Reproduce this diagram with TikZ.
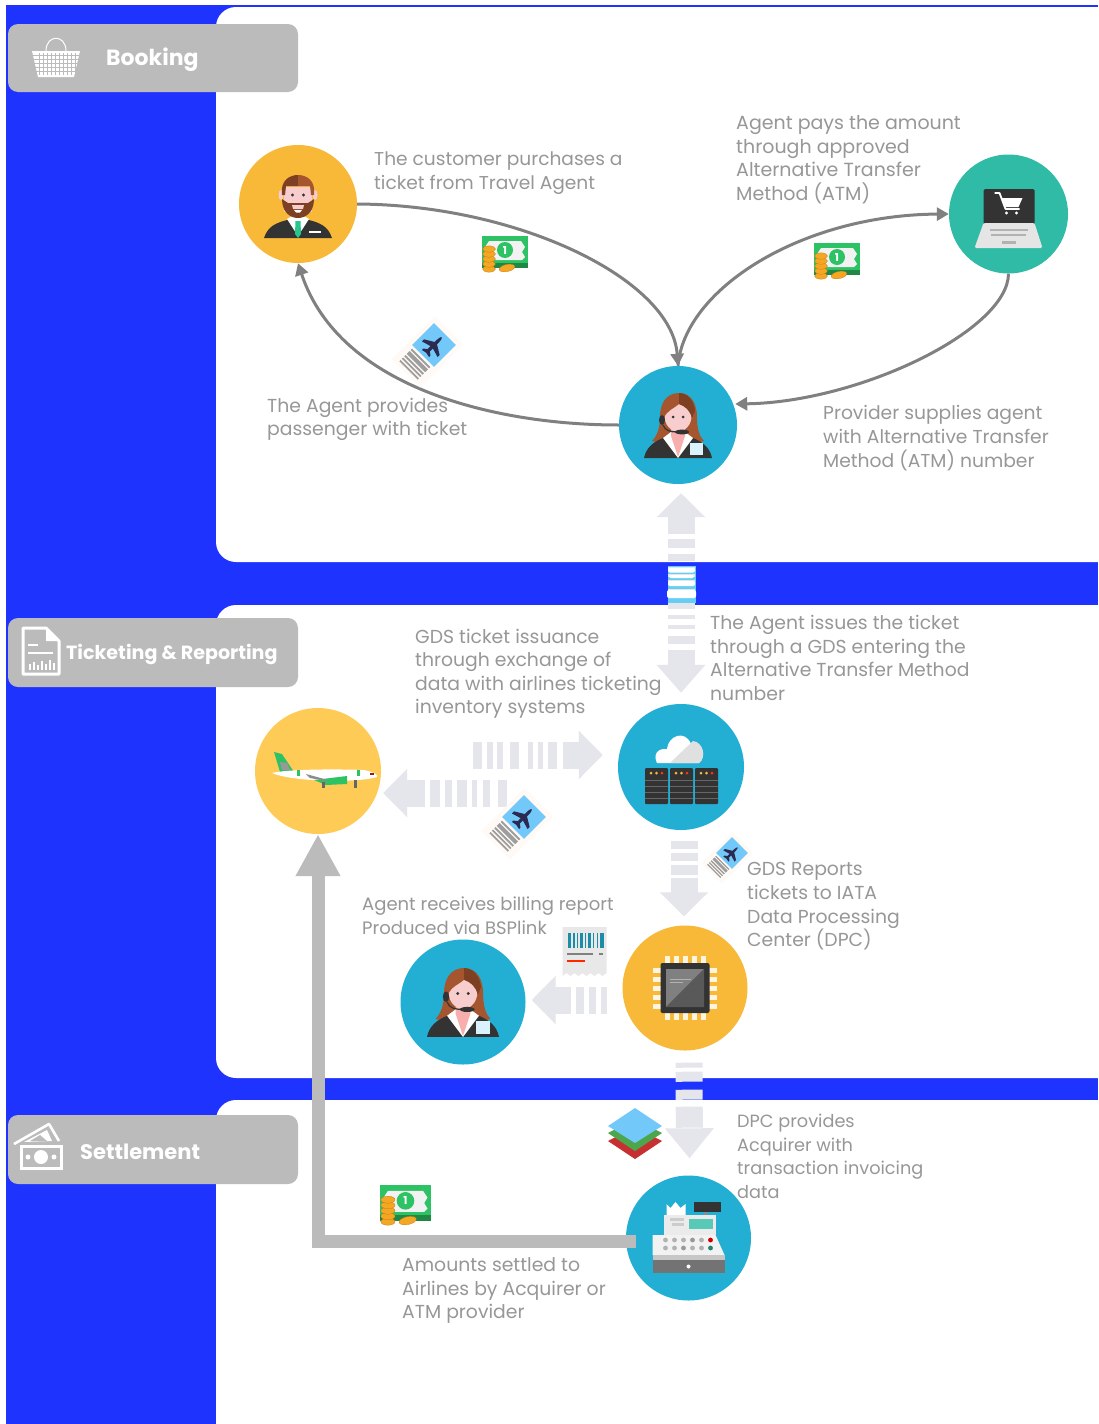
\documentclass[tikz,border=0pt]{standalone}
\usepackage{fontspec}
\setmainfont{Poppins}
\usetikzlibrary{arrows.meta,calc}
\definecolor{bandblue}{HTML}{1F33FF}
\definecolor{tagbox}{HTML}{BBBBBB}
\definecolor{labeltxt}{HTML}{979797}
\definecolor{curvegray}{HTML}{808080}
\definecolor{blockgray}{HTML}{E5E6EC}
\definecolor{amber}{HTML}{F9B938}
\definecolor{paleamber}{HTML}{FFCB57}
\definecolor{teal}{HTML}{2FBBA5}
\definecolor{cyanc}{HTML}{23AFD3}
\definecolor{hairbr}{HTML}{A5562F}
\definecolor{hairdk}{HTML}{7E4023}
\definecolor{skin}{HTML}{F8CDCD}
\definecolor{dark}{HTML}{333333}
\definecolor{moneyg}{HTML}{2DC263}
\definecolor{coin}{HTML}{F5A623}
\definecolor{tickblue}{HTML}{73C8FA}
\tikzset{
  x=1pt,y=-1pt,
  disc/.style={circle,draw=none,fill=#1,inner sep=0},
  textlabel/.style={anchor=north west,align=left,inner sep=0,text=labeltxt,font=\fontsize{#1}{23.6}\selectfont},
  textlabel/.default=18.8,
  tagtext/.style={anchor=west,inner sep=0,text=white,font=\fontsize{#1}{24}\selectfont\bfseries},
  panel/.style={fill=white,rounded corners=20pt},
  flow/.style={draw=curvegray,line width=3pt,-{Triangle[width=13pt,length=12pt]}},
  block/.style={draw=blockgray,line width=27pt,-{Triangle[width=47pt,length=24pt,fill=blockgray]}},
  bigarrow/.style={draw=tagbox,line width=13pt,-{Triangle[width=42pt,length=42pt,fill=tagbox]}},
}
% ---------- icons ----------
\newcommand\moneyicon[3]{\begin{scope}[shift={(#1,#2)},scale=#3]
  \fill[moneyg] (-23,-16) rectangle (23,16);
  \fill[black!5] (-16,-11) -- (16,-11) -- (20,-5) -- (17,0) -- (20,5) -- (17,8) -- (-20,8) -- (-20,-5) -- cycle;
  \fill[moneyg] (0,-2) circle (8);
  \node[name=money-#1-#2,inner sep=0,text=white,font=\fontsize{11}{11}\selectfont\bfseries] at (0,-2) {1};
  \fill[moneyg!70!black] (-23,11) rectangle (23,16);
  \foreach \k in {0,...,4}{\fill[coin,draw=coin!70!black,line width=.2pt] (-16,17-5*\k) ellipse (6.5 and 3.2);}
  \fill[coin,draw=coin!70!black,line width=.2pt,rotate around={12:(2,16)}] (2,16) ellipse (8 and 3.6);
\end{scope}}
\newcommand\ticketicon[3]{\begin{scope}[shift={(#1,#2)},rotate=45,scale=#3]
  \fill[orange!4] (-40,-20) rectangle (21,20);
  \fill[tickblue] (-15.5,-15.5) rectangle (15.5,15.5);
  \foreach \p/\w in {-36/1.8,-32.5/1.8,-29/1.8,-25.5/4,-20/1.8}{\fill[black!38] (\p,-13) rectangle (\p+\w,13);}
  \fill[dark!85!blue] (-10,-1.6) -- (6,-1.6) .. controls (10,-1.6) and (11,0) .. (11,0) .. controls (11,0) and (10,1.6) .. (6,1.6) -- (-10,1.6) -- cycle;
  \fill[dark!85!blue] (3,-1) -- (-3,-11) -- (-6,-11) -- (-3,-1) -- (-3,1) -- (-6,11) -- (-3,11) -- (3,1) -- cycle;
  \fill[dark!85!blue] (-7,-1) -- (-10,-5) -- (-12,-5) -- (-11,0) -- (-12,5) -- (-10,5) -- (-7,1) -- cycle;
\end{scope}}
\newcommand\womanicon[3]{\begin{scope}[shift={(#1,#2)},scale=#3]
  \fill[hairbr] (1,-32) .. controls (-13,-32) and (-18,-20) .. (-18,-8) .. controls (-18,3) and (-21,11) .. (-26,16) -- (-8,20) -- (8,20) -- (26,16) .. controls (21,11) and (19,3) .. (19,-8) .. controls (19,-20) and (14,-32) .. (1,-32) -- cycle;
  \fill[dark] (-34,33) .. controls (-32,23) and (-25,17) .. (-15,13) -- (15,13) .. controls (25,17) and (32,23) .. (34,33) -- cycle;
  \fill[white] (-15,13) -- (-7,7) -- (7,7) -- (15,13) -- (0,33) -- cycle;
  \fill[skin!85!red] (-7,4) -- (7,4) -- (7,11) -- (0,32) -- (-7,11) -- cycle;
  \fill[skin] (0,-9) ellipse (13.5 and 15.5);
  \fill[hairbr] (-14,-7) .. controls (-15,-22) and (-6,-27) .. (1,-27) .. controls (9,-27) and (15,-20) .. (14,-7) .. controls (12,-15) and (7,-19) .. (1,-21) .. controls (-3,-17) and (-11,-15) .. (-14,-7) -- cycle;
  \fill[hairdk] (1,-32) .. controls (10,-32) and (16,-24) .. (17,-14) -- (14,-7) .. controls (12,-15) and (7,-19) .. (1,-21) -- cycle;
  \fill[dark] (-5,-8) circle (1.5); \fill[dark] (5,-8) circle (1.5);
  \fill[dark] (-16,-5) ellipse (3 and 5);
  \draw[dark,line width=1.2pt] (-15,0) .. controls (-13,6) and (-7,7) .. (0,7);
  \fill[dark] (4,7) ellipse (7 and 2.4);
  \fill[black!6!cyan!15] (12,18) rectangle (25,30);
\end{scope}}
\newcommand\manicon[3]{\begin{scope}[shift={(#1,#2)},scale=#3]
  \fill[dark] (-34,34) .. controls (-30,22) and (-22,19) .. (-11,16) -- (11,16) .. controls (22,19) and (30,22) .. (34,34) -- cycle;
  \fill[white] (-11,15) -- (-6,12) -- (6,12) -- (11,15) -- (0,32) -- cycle;
  \fill[teal!85!green] (-2.5,17) -- (2.5,17) -- (3,30) -- (0,34) -- (-3,30) -- cycle;
  \fill[white] (11,27) rectangle (23,29);
  \fill[skin] (-14,-17) rectangle (14,8);
  \fill[skin] (-17,-9) ellipse (2.5 and 5); \fill[skin] (17,-9) ellipse (2.5 and 5);
  \fill[hairdk] (-16,-5) -- (-14.5,-4) -- (-10,-1) -- (10,-1) -- (14.5,-4) -- (16,-5) .. controls (16,8) and (8,14) .. (0,14) .. controls (-8,14) and (-16,8) .. (-16,-5) -- cycle;
  \fill[skin] (-6,1) -- (6,1) -- (5,5) -- (-5,5) -- cycle;
  \fill[white] (-4,6) -- (4,6) -- (2,8.5) -- (-2,8.5) -- cycle;
  \fill[hairdk] (-16,-9) .. controls (-18,-24) and (-8,-29) .. (0,-29) -- (0,-18) -- (-12,-18) -- (-13,-9) -- cycle;
  \fill[hairbr] (16,-9) .. controls (18,-24) and (8,-29) .. (0,-29) -- (0,-18) -- (12,-18) -- (13,-9) -- cycle;
  \fill[dark] (-5.5,-9) circle (1.6); \fill[dark] (5.5,-9) circle (1.6);
\end{scope}}
% ---------- picture ----------
\begin{document}
\begin{tikzpicture}
\useasboundingbox (0,0) rectangle (1098,1424);
\fill[white] (0,0) rectangle (1098,1424);
\fill[bandblue] (6,5) rectangle (1098,1424);
% panels
\fill[panel] (216,7) -- (1118,7) -- (1118,562) -- (216,562) -- cycle;
\fill[panel] (216,605) -- (1118,605) -- (1118,1078) -- (216,1078) -- cycle;
\fill[panel] (216,1100) -- (1118,1100) -- (1118,1460) -- (216,1460) -- cycle;
% section tags
\fill[tagbox,rounded corners=10pt] (8,24) rectangle (298,92);
\fill[tagbox,rounded corners=10pt] (8,618) rectangle (298,687);
\fill[tagbox,rounded corners=10pt] (8,1115) rectangle (298,1184);
\node[tagtext=22] (tagA) at (106,60) {Booking};
\node[tagtext=19.1] (tagB) at (66,654) {Ticketing \& Reporting};
\node[tagtext=21] (tagC) at (80,1152) {Settlement};
% basket icon
\begin{scope}[white]
  \draw[line width=1pt] (46,51) .. controls (46,34) and (66,34) .. (66,51);
  \fill (32,51) -- (80,51) -- (74,77) -- (38,77) -- cycle;
  \foreach \yy in {55,59,63,67,71}{\draw[tagbox,line width=.7pt] (33,\yy) -- (79,\yy);}
  \foreach \xx in {39,43,47,51,55,59,63,67,71,75}{\draw[tagbox,line width=.7pt] (\xx,53) -- (\xx,75);}
\end{scope}
% doc icon
\draw[white,line width=3pt,line join=round] (23,628) -- (46,628) -- (59,641) -- (59,674) -- (23,674) -- cycle;
\fill[white] (46,628) -- (46,641) -- (59,641) -- cycle;
\fill[white] (28,644) rectangle (38,646);
\fill[white] (28,652) rectangle (53,654);
\foreach \xx/\hh in {29/6,33/8,37/5,41/9,45/6,49/10,53/7}{\fill[white] (\xx,670) rectangle (\xx+2,670-\hh);}
% settlement icon
\draw[white,line width=2.6pt,line join=round] (14,1144) -- (49,1124) -- (59,1141);
\fill[white] (24,1142) -- (47,1130) -- (52,1141) -- cycle;
\fill[tagbox] (30,1141) -- (40,1135) -- (47,1141) -- cycle;
\draw[white,line width=3pt] (21,1146) rectangle (61,1168);
\fill[white] (41,1157) ellipse (7 and 7);
\fill[white] (28,1157) circle (2.5); \fill[white] (54,1157) circle (2.5);
% discs
\node[disc=amber,minimum size=118pt] (cust) at (298,204) {};
\node[disc=teal,minimum size=119pt] (shop) at (1008.5,214) {};
\node[disc=cyanc,minimum size=118pt] (agent) at (678,425) {};
\node[disc=paleamber,minimum size=126pt] (airline) at (318,771) {};
\node[disc=cyanc,minimum size=126pt] (gds) at (681,767) {};
\node[disc=amber,minimum size=125pt] (dpc) at (685,988) {};
\node[disc=cyanc,minimum size=125pt] (agentb) at (463,1002) {};
\node[disc=cyanc,minimum size=125pt] (till) at (688.5,1238) {};
% curved flows
\draw[flow] (cust.east) .. controls (520,205) and (672,280) .. (agent.north);
\draw[flow] (agent.west) .. controls (500,425) and (340,390) .. (cust.south);
\draw[flow] (agent.north) .. controls (684,290) and (800,215) .. (shop.west);
\draw[flow] (shop.south) .. controls (1008,330) and (860,402) .. ($(agent.east)+(-2,-21)$);
% block arrows
\fill[cyan!60!white] (668,566) rectangle (696,603);
\draw[block,{Triangle[width=47pt,length=24pt,fill=blockgray]}-{Triangle[width=47pt,length=28pt,fill=blockgray]},
  dash pattern=on 18pt off 5pt on 9pt off 6pt on 7pt off 6pt on 4pt off 3pt on 3pt off 3pt on 5pt off 4pt on 8pt off 6pt on 6pt off 6pt on 4pt off 6pt on 4pt off 7pt on 8pt off 6pt on 20pt]
  ($(agent.south)+(3,9)$) -- ($(gds.north)+(0,-11)$);
\fill[white,rounded corners=2pt] (668,568) rectangle (695,572.5);
\fill[white,rounded corners=2pt] (669,575) rectangle (694,578);
\fill[white,rounded corners=2pt] (668,581) rectangle (695,586);
\fill[white,rounded corners=2pt] (667,590) rectangle (696,598);
\draw[block,dash pattern=on 9pt off 5pt on 6pt off 4pt on 6pt off 7pt on 9pt off 9pt on 5pt off 5pt on 5pt off 5pt on 9pt off 6pt on 17pt]
  ($(airline.east)+(92,-16)$) -- ($(gds.west)+(-15,-12)$);
\draw[block,dash pattern=on 9pt off 8pt on 7pt off 6pt on 5pt off 5pt on 10pt off 5pt on 7pt off 5pt on 10pt off 5pt on 18pt]
  ($(gds.west)+(-111,26)$) -- ($(airline.east)+(2,22)$);
\draw[block,dash pattern=on 8pt off 4pt on 8pt off 4pt on 10pt off 3pt on 20pt]
  ($(gds.south)+(3,11)$) -- ($(dpc.north)+(-1,-9)$);
\draw[block,dash pattern=on 6pt off 5pt on 7pt off 5pt on 8pt off 5pt on 18pt]
  ($(dpc.west)+(-15,12)$) -- ($(agentb.east)+(6,-2)$);
\draw[draw=blockgray,line width=27pt,-{Triangle[width=47pt,length=30pt,fill=blockgray]},dash pattern=on 5pt off 4pt on 10pt off 8pt on 10pt off 7pt on 21pt]
  ($(dpc.south)+(4,12)$) -- ($(till.north)+(1,-17)$);
\draw[bigarrow] ($(till.west)+(10,3)$) -| (airline.south);
% man + woman icons
\manicon{298}{204}{1}
\womanicon{678}{425}{1}
\womanicon{463}{1002}{1.06}
% laptop icon
\begin{scope}[shift={(1008.5,214)}]
  \fill[dark,rounded corners=1.5pt] (-25,-25) rectangle (26,10);
  \fill[black!10,rounded corners=1.5pt] (-25,9) -- (26,9) -- (34,34) -- (-34,34) -- cycle;
  \fill[black!30] (-19,15) rectangle (19,16.5); \fill[black!30] (-18,20) rectangle (17,21.5);
  \fill[black!30] (-7,27) rectangle (7,30);
  \draw[white,line width=1.8pt,line join=round] (-14,-21) -- (-9,-21) -- (-3,-5) -- (11,-5);
  \fill[white] (-7,-16) -- (14,-16) -- (10,-7) -- (-4,-7) -- cycle;
  \fill[white] (-2,-1) circle (1.7); \fill[white] (8,-1) circle (1.7);
\end{scope}
% airplane icon
\begin{scope}[shift={(318,771)}]
  \fill[moneyg] (-44,-19) -- (-36,-17) -- (-24,1) -- (-38,1) -- cycle;
  \fill[black!40] (-38,-9) -- (-31,-8) -- (-28,-1) -- (-36,-1) -- cycle;
  \fill[white] (-46,2) .. controls (-30,-2) and (20,-2) .. (46,-1) .. controls (56,1) and (60,4) .. (59,6) .. controls (40,12) and (-25,11) .. (-46,2) -- cycle;
  \fill[moneyg] (-4,9) -- (29,5) -- (29,13) -- (8,14) -- cycle;
  \fill[black!45] (-12,3) -- (10,9) -- (8,10) -- (-8,7) -- cycle;
  \fill[moneyg] (-21,-1) rectangle (-18,5); \fill[moneyg] (39,-1) rectangle (42,5);
  \fill[black!60] (4,11) rectangle (7,17); \fill[black!60] (36,9) rectangle (39,17);
  \fill[red!50!dark] (52,2) rectangle (56,3.5);
\end{scope}
% cloud + servers icon
\begin{scope}[shift={(681,767)}]
  \fill[white] (-24,-4) .. controls (-28,-12) and (-24,-19) .. (-14,-18) .. controls (-13,-31) and (4,-38) .. (10,-23) .. controls (20,-25) and (26,-10) .. (18,-4) -- cycle;
  \fill[black!12] (-11,-4) -- (12,-26) .. controls (22,-25) and (26,-10) .. (18,-4) -- cycle;
  \foreach \xx in {-36,-11,14}{
    \fill[dark,rounded corners=1pt] (\xx,1) rectangle (\xx+23,37);
    \fill[amber] (\xx+6,6) circle (1.5); \fill[amber] (\xx+11.5,6) circle (1.5); \fill[red!70!amber] (\xx+17,6) circle (1.5);
    \foreach \yy in {13,19,25,31}{\fill[black!60] (\xx,\yy) rectangle (\xx+23,\yy+1);}
  }
\end{scope}
% chip icon
\begin{scope}[shift={(685,988)}]
  \foreach \k in {-18,-9,0,9,18}{
    \fill[white!85!amber] (\k-2.5,-32) rectangle (\k+2.5,-24);
    \fill[white!85!amber] (\k-2.5,24) rectangle (\k+2.5,32);
    \fill[white!85!amber] (-32,\k-2.5) rectangle (-24,\k+2.5);
    \fill[white!85!amber] (24,\k-2.5) rectangle (32,\k+2.5);
  }
  \fill[dark,rounded corners=2pt] (-24.5,-25) rectangle (24.5,25);
  \fill[black!72] (-19,-19) rectangle (19,19);
  \fill[black!50] (-19,19) -- (19,-19) -- (-19,-19) -- cycle;
  \fill[black!65] (-19,19) -- (19,-19) -- (19,19) -- cycle;
  \fill[black!30] (-15,-9) rectangle (6,-8); \fill[black!30] (-15,-6) rectangle (-2,-5);
\end{scope}
% till icon
\begin{scope}[shift={(688.5,1238)}]
  \fill[dark] (5,-36) rectangle (32,-26);
  \fill[black!45] (15,-26) rectangle (18,-21);
  \fill[white] (-22,-34) -- (-18,-30) -- (-13,-36) -- (-8,-30) -- (-3,-34) -- (-3,-16) -- (-22,-16) -- cycle;
  \fill[black!8] (-25,-23) rectangle (27,-3);
  \fill[black!20] (-19,-20) rectangle (-5,-17); \fill[black!20] (-17,-15) rectangle (-5,-12);
  \fill[teal!80!white] (0,-19) rectangle (24,-9);
  \fill[black!5] (-36,-3) -- (27,-3) -- (36,17) -- (-36,17) -- cycle;
  \foreach \xx/\col in {-23/black!30,-14/black!30,-5/black!30,4/black!40,13/black!30,22/red!80!black}{\fill[\col] (\xx,2) circle (2.4);}
  \foreach \xx/\col in {-23/black!30,-14/black!30,-5/black!40,4/black!30,13/black!30,22/teal!70!black}{\fill[\col] (\xx,10) circle (2.4);}
  \fill[black!22] (-36,17) rectangle (36,22);
  \fill[black!55] (-36,22) rectangle (36,35);
  \fill[white] (0,28.5) circle (2);
\end{scope}
% small icons
\moneyicon{505}{252}{1}
\moneyicon{837}{259}{1}
\moneyicon{405.5}{1203}{1.1}
\ticketicon{434}{345}{1}
\ticketicon{524}{817}{1}
\ticketicon{732}{853}{.72}
% receipt icon
\begin{scope}[shift={(584.5,951)}]
  \fill[black!9] (-22,-24) -- (22,-24) -- (22,22) -- (18,25) -- (14,22) -- (10,25) -- (6,22) -- (2,25) -- (-2,22) -- (-6,25) -- (-10,22) -- (-14,25) -- (-18,22) -- (-22,25) -- cycle;
  \foreach \xx/\ww in {-17/3,-12/2,-8/1.5,-5/3,0/1.5,3/3,8/1.5,12/1.5,15/4}{\fill[cyanc!80!black] (\xx,-18) rectangle (\xx+\ww,-3);}
  \fill[black!50] (-18,2) rectangle (8,4); \fill[black!50] (14,2) rectangle (18,4);
  \fill[red!70!orange] (-18,9) rectangle (0,11);
\end{scope}
% layers icon
\begin{scope}[shift={(635,1133)}]
  \fill[red!70!black!75!pink] (-27,8) -- (0,-6) -- (27,8) -- (0,26) -- cycle;
  \fill[green!50!black!70!white] (-27,0) -- (0,-14) -- (27,0) -- (0,18) -- cycle;
  \fill[tickblue] (-27,-7) -- (0,-25) -- (27,-7) -- (0,10) -- cycle;
\end{scope}
% text labels
\node[textlabel=18.6] (t1) at (374,151.5) {The customer purchases a\\ticket from Travel Agent};
\node[textlabel=19] (t2) at (736,115.5) {Agent pays the amount\\through approved\\Alternative Transfer\\Method (ATM)};
\node[textlabel] (t3) at (267,397.5) {The Agent provides\\passenger with ticket};
\node[textlabel=18.7] (t4) at (823,405.5) {Provider supplies agent\\with Alternative Transfer\\Method (ATM) number};
\node[textlabel] (t5) at (415,628.5) {GDS ticket issuance\\through exchange of\\data with airlines ticketing\\inventory systems};
\node[textlabel] (t6) at (710,615) {The Agent issues the ticket\\through a GDS entering the\\Alternative Transfer Method\\number};
\node[textlabel=18] (t7) at (362,896.5) {Agent receives billing report\\Produced via BSPlink};
\node[textlabel] (t8) at (747,862.5) {GDS Reports\\tickets to IATA\\Data Processing\\Center (DPC)};
\node[textlabel=17.7] (t9) at (737,1114) {DPC provides\\Acquirer with\\transaction invoicing\\data};
\node[textlabel] (t10) at (402,1257.5) {Amounts settled to\\Airlines by Acquirer or\\ATM provider};
\end{tikzpicture}
\end{document}
